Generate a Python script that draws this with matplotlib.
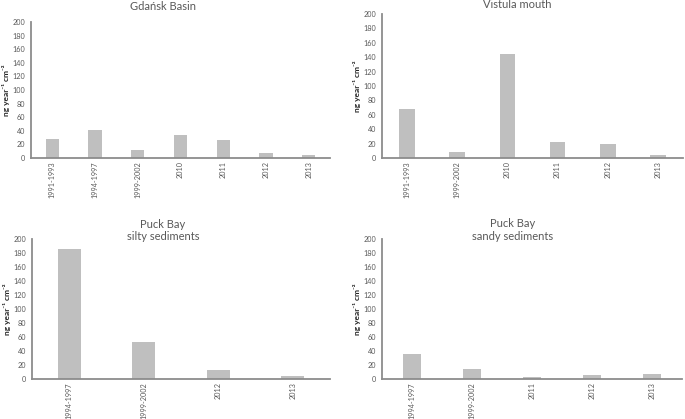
import matplotlib.pyplot as plt

plt.rcParams["font.family"] = ["Lato", "DejaVu Sans"]

GRAY_BAR = "#bfbfbf"
GRAY_AXIS = "#8c8c8c"
GRAY_TEXT = "#595959"

# Gdańsk Basin
gdansk_periods = ["1991-1993", "1994-1997", "1999-2002", "2010", "2011", "2012", "2013"]
gdansk_values = [28, 40.5, 12, 34, 27, 8, 4]

# Vistula mouth
vistula_periods = ["1991-1993", "1999-2002", "2010", "2011", "2012", "2013"]
vistula_values = [68.5, 8, 145, 22, 19, 3.5]

# Puck Bay silty sediments
silty_periods = ["1994-1997", "1999-2002", "2012", "2013"]
silty_values = [185, 53, 13, 4.5]

# Puck Bay sandy sediments
sandy_periods = ["1994-1997", "1999-2002", "2011", "2012", "2013"]
sandy_values = [36, 14.5, 2.5, 6, 7.5]

YLABEL = "ng year\u207b\u00b9 cm\u207b\u00b2"


def draw_panel(ax, periods, values):
    x = range(len(periods))
    ax.bar(x, values, width=0.31, color=GRAY_BAR, edgecolor="none")
    ax.set_xlim(-0.5, len(periods) - 0.5)
    ax.set_ylim(0, 200)
    ax.set_yticks(range(0, 201, 20))
    ax.set_xticks(list(x))
    ax.set_xticklabels(periods, rotation=90)
    ax.tick_params(length=0, labelsize=5.2, colors=GRAY_TEXT, pad=2.5)
    ax.tick_params(axis="y", pad=4)
    for side in ["top", "right"]:
        ax.spines[side].set_visible(False)
    for side in ["left", "bottom"]:
        ax.spines[side].set_color(GRAY_AXIS)
        ax.spines[side].set_linewidth(1.3)
    ax.set_ylabel(YLABEL, fontsize=6, fontweight="bold", color="#262626")
    # right edge of the rotated label sits ~21 px left of the axis
    w = ax.get_position().width * 685
    ax.yaxis.set_label_coords(-21 / w, 0.5)


fig = plt.figure(figsize=(6.85, 4.19), dpi=100)

ax1 = fig.add_axes([0.0453, 0.6229, 0.4365, 0.3246])
draw_panel(ax1, gdansk_periods, gdansk_values)

ax2 = fig.add_axes([0.5577, 0.6229, 0.4394, 0.3437])
draw_panel(ax2, vistula_periods, vistula_values)

ax3 = fig.add_axes([0.0467, 0.0955, 0.435, 0.3341])
draw_panel(ax3, silty_periods, silty_values)

ax4 = fig.add_axes([0.5577, 0.0955, 0.438, 0.3341])
draw_panel(ax4, sandy_periods, sandy_values)

# titles placed by baseline in figure pixels (from top)
title_kw = dict(fontsize=8, color=GRAY_TEXT, ha="center", va="baseline")
fig.text(163 / 685, 1 - 9.5 / 419, "Gdańsk Basin", **title_kw)
fig.text(517 / 685, 1 - 8.5 / 419, "Vistula mouth", **title_kw)
fig.text(163 / 685, 1 - 228 / 419, "Puck Bay", **title_kw)
fig.text(163 / 685, 1 - 240 / 419, "silty sediments", **title_kw)
fig.text(513 / 685, 1 - 227 / 419, "Puck Bay", **title_kw)
fig.text(513 / 685, 1 - 240 / 419, "sandy sediments", **title_kw)

fig.savefig("out.png", dpi=100)
